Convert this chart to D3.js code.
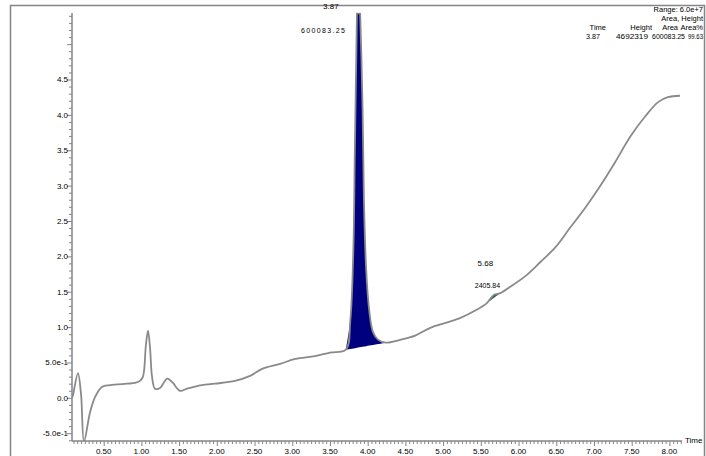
<!DOCTYPE html>
<html>
<head>
<meta charset="utf-8">
<script src="https://cdn.jsdelivr.net/npm/d3@7/dist/d3.min.js"></script>
<style>
  html, body { margin: 0; padding: 0; background: #fff; }
  svg { display: block; }
  text { font-family: "Liberation Sans", Arial, sans-serif; fill: #000; }
</style>
</head>
<body>
<svg id="chart" width="706" height="456"></svg>
<script>
// Chromatogram trace: retention time (min) and detector response
const traceTime = [0.08, 0.093, 0.159, 0.20, 0.239, 0.318, 0.385, 0.477, 0.584, 0.809, 0.915, 0.981, 1.021, 1.06, 1.088, 1.115, 1.141, 1.18, 1.247, 1.30, 1.34, 1.38, 1.419, 1.512, 1.605, 1.751, 1.976, 2.24, 2.44, 2.60, 2.84, 3.04, 3.30, 3.50, 3.71, 3.77, 3.81, 3.83, 3.86, 3.87, 3.89, 3.93, 3.95, 3.98, 4.02, 4.07, 4.14, 4.24, 4.43, 4.63, 4.83, 5.03, 5.23, 5.42, 5.58, 5.64, 5.68, 5.72, 5.76, 5.89, 6.09, 6.29, 6.49, 6.68, 6.88, 7.08, 7.28, 7.48, 7.68, 7.85, 7.98, 8.14];
const traceValue = [0.0, 0.04, 0.35, 0.05, -0.62, -0.21, 0.01, 0.155, 0.18, 0.20, 0.21, 0.24, 0.30, 0.75, 0.95, 0.70, 0.30, 0.13, 0.14, 0.22, 0.27, 0.25, 0.21, 0.10, 0.13, 0.17, 0.20, 0.24, 0.31, 0.41, 0.48, 0.55, 0.59, 0.64, 0.68, 1.10, 2.09, 3.5, 5.6, 6.2, 5.8, 4.2, 2.8, 1.81, 1.24, 0.93, 0.82, 0.78, 0.82, 0.88, 0.99, 1.06, 1.13, 1.23, 1.34, 1.42, 1.46, 1.47, 1.48, 1.57, 1.72, 1.92, 2.13, 2.40, 2.68, 2.99, 3.33, 3.69, 3.98, 4.18, 4.25, 4.27];

// Integrated peaks: start/end times of each baseline
const peakNames = ["main", "minor"];
const peakStart = [3.71, 5.58];
const peakEnd = [4.24, 5.76];
const peakColors = ["#00007f", "#1d5a52"];
const peakTimeLabels = ["3.87", "5.68"];
const peakAreaLabels = ["600083.25", "2405.84"];

// Axis ticks
const xTickValues = [0.5, 1.0, 1.5, 2.0, 2.5, 3.0, 3.5, 4.0, 4.5, 5.0, 5.5, 6.0, 6.5, 7.0, 7.5, 8.0];
const xTickLabels = ["0.50", "1.00", "1.50", "2.00", "2.50", "3.00", "3.50", "4.00", "4.50", "5.00", "5.50", "6.00", "6.50", "7.00", "7.50", "8.00"];
const yTickValues = [-0.5, 0.0, 0.5, 1.0, 1.5, 2.0, 2.5, 3.0, 3.5, 4.0, 4.5];
const yTickLabels = ["-5.0e-1", "0.0", "5.0e-1", "1.0", "1.5", "2.0", "2.5", "3.0", "3.5", "4.0", "4.5"];

// Results table in the header
const headerLines = ["Range: 6.0e+7", "Area, Height"];
const tableColumns = ["Time", "Height", "Area", "Area%"];
const tableValues = ["3.87", "4692319", "600083.25", "99.63"];

const svg = d3.select("#chart");
const axisColor = "#858585";

const x = d3.scaleLinear().domain([0.08, 8.22]).range([72, 686]);
const y = d3.scaleLinear().domain([-0.61, 5.44]).range([441, 13]);

// outer frame
svg.append("path")
  .attr("d", "M10.5,456 L10.5,5.5 L704.5,5.5 L704.5,456")
  .attr("fill", "none").attr("stroke", axisColor).attr("stroke-width", 1.5);

const clip = svg.append("clipPath").attr("id", "plotClip");
clip.append("rect").attr("x", 72).attr("y", 13).attr("width", 614).attr("height", 428);

const pts = traceTime.map((t, i) => [t, traceValue[i]]);
const curve = d3.curveCatmullRom.alpha(0.5);

const plot = svg.append("g").attr("clip-path", "url(#plotClip)");

// filled peak areas between trace and straight baseline
peakNames.forEach((name, k) => {
  const s = peakStart[k], e = peakEnd[k];
  const vs = traceValue[traceTime.indexOf(s)];
  const ve = traceValue[traceTime.indexOf(e)];
  const base = t => vs + (ve - vs) * (t - s) / (e - s);
  const sub = pts.filter(p => p[0] >= s && p[0] <= e);
  const area = d3.area()
    .x(d => x(d[0]))
    .y0(d => y(base(d[0])))
    .y1(d => y(d[1]))
    .curve(curve);
  plot.append("path").datum(sub)
    .attr("class", "peak-" + name)
    .attr("d", area)
    .attr("fill", peakColors[k]);
});

// trace
const line = d3.line().x(d => x(d[0])).y(d => y(d[1])).curve(curve);
plot.append("path").datum(pts)
  .attr("d", line)
  .attr("fill", "none")
  .attr("stroke", "#8a8a8a")
  .attr("stroke-width", 1.8);

// clipped top of the main peak
const apexLeft = x(3.855), apexRight = x(3.885);
svg.append("line").attr("x1", apexLeft).attr("x2", apexRight + 1).attr("y1", 13.5).attr("y2", 13.5)
  .attr("stroke", "#8a8a8a").attr("stroke-width", 1.5);

// x axis
const xAxis = d3.axisBottom(x)
  .tickValues(d3.range(0.1, 8.16, 0.05).map(v => +v.toFixed(2)))
  .tickSize(3)
  .tickFormat("");
const gx = svg.append("g").attr("transform", "translate(0,441)").call(xAxis);
gx.select(".domain").attr("stroke", axisColor).attr("stroke-width", 1.5).attr("d", "M72,0H682");
gx.selectAll(".tick line").attr("stroke", axisColor)
  .attr("y2", d => (Math.abs(d * 2 - Math.round(d * 2)) < 1e-6 ? 5 : 3));

svg.append("g").selectAll("text").data(xTickValues).join("text")
  .attr("x", d => x(d)).attr("y", 454)
  .attr("text-anchor", "middle").attr("font-size", 8)
  .text((d, i) => xTickLabels[i]);

svg.append("text").attr("x", 685).attr("y", 443).attr("font-size", 8).text("Time");

// y axis
const yAxis = d3.axisLeft(y)
  .tickValues(d3.range(-0.6, 5.41, 0.1).map(v => +v.toFixed(1)))
  .tickSize(3)
  .tickFormat("");
const gy = svg.append("g").attr("transform", "translate(72,0)").call(yAxis);
gy.select(".domain").attr("stroke", axisColor).attr("stroke-width", 1.5).attr("d", "M0,13V441");
gy.selectAll(".tick line").attr("stroke", axisColor)
  .attr("x2", d => (Math.abs(d * 2 - Math.round(d * 2)) < 1e-6 ? -5 : -3));

svg.append("g").selectAll("text").data(yTickValues).join("text")
  .attr("x", 68).attr("y", d => y(d) + 3)
  .attr("text-anchor", "end").attr("font-size", 8)
  .text((d, i) => yTickLabels[i]);

// peak annotations
svg.append("text").attr("x", x(3.87) - 27).attr("y", 9).attr("text-anchor", "middle")
  .attr("font-size", 8).text(peakTimeLabels[0]);
svg.append("text").attr("x", x(3.87) - 13).attr("y", 33).attr("text-anchor", "end")
  .attr("font-size", 7).attr("textLength", 44).text(peakAreaLabels[0]);
svg.append("text").attr("x", x(5.68) - 9).attr("y", 266).attr("text-anchor", "middle")
  .attr("font-size", 8).text(peakTimeLabels[1]);
svg.append("text").attr("x", x(5.68) - 7).attr("y", 288).attr("text-anchor", "middle")
  .attr("font-size", 7).text(peakAreaLabels[1]);

// header results block
svg.append("text").attr("x", 703).attr("y", 12).attr("text-anchor", "end")
  .attr("font-size", 7.5).text(headerLines[0]);
svg.append("text").attr("x", 703).attr("y", 21).attr("text-anchor", "end")
  .attr("font-size", 7.5).text(headerLines[1]);
// column right edges of the table heading and left edges / widths of the value row
const colRight = [606, 652, 678, 703];
const valLeft = [586, 616, 652, 688];
const valWidth = [14, 32, 33, 15];
tableColumns.forEach((h, i) => {
  svg.append("text").attr("x", colRight[i]).attr("y", 30).attr("text-anchor", "end")
    .attr("font-size", 7.5).text(h);
  svg.append("text").attr("x", valLeft[i]).attr("y", 39)
    .attr("font-size", 7).attr("textLength", valWidth[i])
    .attr("lengthAdjust", "spacingAndGlyphs")
    .text(tableValues[i]);
});
</script>
</body>
</html>
